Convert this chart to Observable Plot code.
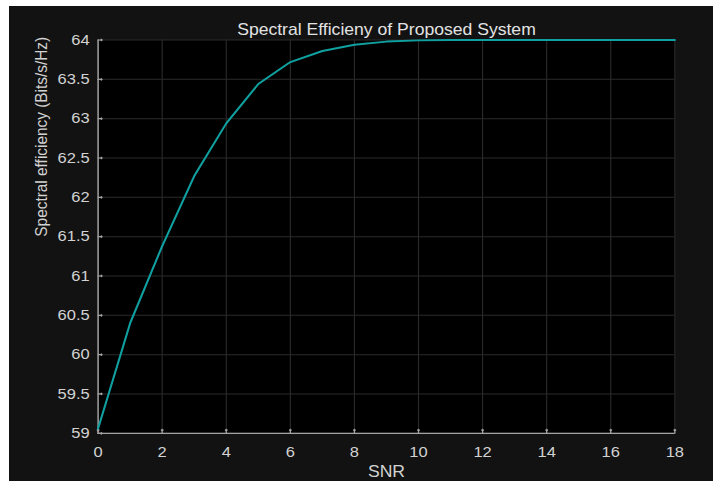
<!DOCTYPE html>
<html>
<head>
<meta charset="utf-8">
<script src="https://cdn.jsdelivr.net/npm/d3@7"></script>
<script src="https://cdn.jsdelivr.net/npm/@observablehq/plot@0.6"></script>
<style>
  html, body { margin: 0; padding: 0; background: #ffffff; }
  #chart { padding-left: 9px; padding-top: 6px; width: 704px; height: 475px; overflow: visible; }
  #chart svg { display: block; transform: scaleX(1.1); transform-origin: 0 0; }
</style>
</head>
<body>
<div id="chart"></div>
<script>
// Data
const snr = [0, 1, 2, 3, 4, 5, 6, 7, 8, 9, 10, 11, 12, 13, 14, 15, 16, 17, 18];
const efficiency = [59.06, 60.40, 61.38, 62.27, 62.94, 63.44, 63.72, 63.86, 63.94, 63.98, 63.995, 64, 64, 64, 64, 64, 64, 64, 64];
const xTicks = [0, 2, 4, 6, 8, 10, 12, 14, 16, 18];
const yTicks = [59, 59.5, 60, 60.5, 61, 61.5, 62, 62.5, 63, 63.5, 64];
const titleText = "Spectral Efficieny of Proposed System";
const xLabel = "SNR";
const yLabel = "Spectral efficiency (Bits/s/Hz)";

const data = snr.map((s, i) => ({snr: s, eff: efficiency[i]}));

const axisColor = "#a3a3a3";
const textColor = "#d2d2d2";
const gridColor = "#2b2b2b";

const chart = Plot.plot({
  width: 640,
  height: 475,
  marginLeft: 80.5,
  marginRight: 35.2,
  marginTop: 33.5,
  marginBottom: 48.2,
  x: {domain: [xTicks[0], xTicks[xTicks.length - 1]]},
  y: {domain: [yTicks[0], yTicks[yTicks.length - 1]]},
  style: {background: "#121212", fontFamily: "'Liberation Sans', Arial, sans-serif", overflow: "visible"},
  marks: [
    Plot.frame({fill: "#000000", stroke: null}),
    Plot.gridX(xTicks, {stroke: gridColor, strokeOpacity: 1, strokeWidth: 1}),
    Plot.gridY(yTicks, {stroke: gridColor, strokeOpacity: 1, strokeWidth: 1}),
    Plot.ruleX([xTicks[0]], {stroke: axisColor, strokeWidth: 1.3}),
    Plot.ruleY([yTicks[0]], {stroke: axisColor, strokeWidth: 1.3}),
    Plot.vector(xTicks, {x: d => d, y: () => yTicks[0], length: 4, rotate: 0, anchor: "start", stroke: axisColor, strokeWidth: 1.2}),
    Plot.vector(yTicks, {x: () => xTicks[0], y: d => d, length: 3.6, rotate: 90, anchor: "start", stroke: axisColor, strokeWidth: 1.2}),
    Plot.axisX(xTicks, {tickSize: 0, tickPadding: 13, fontSize: 15, fill: textColor, tickFormat: d => String(d), label: null}),
    Plot.axisY(yTicks, {tickSize: 0, tickPadding: 7.7, fontSize: 15, fill: textColor, tickFormat: d => String(d), label: null}),
    Plot.line(data, {x: "snr", y: "eff", stroke: "#10a0a0", strokeWidth: 1.9}),
    Plot.text([titleText], {frameAnchor: "top", lineAnchor: "bottom", dy: -5.2, fontSize: 16, fill: "#e2e2e2", text: d => d}),
    Plot.text([xLabel], {frameAnchor: "bottom", lineAnchor: "bottom", dy: 43.9, fontSize: 16, fill: textColor, text: d => d}),
    Plot.text([yLabel], {frameAnchor: "left", lineAnchor: "bottom", rotate: -90, dx: -46.8, fontSize: 15.4, fill: textColor, text: d => d})
  ]
});

document.getElementById("chart").appendChild(chart);
</script>
</body>
</html>
